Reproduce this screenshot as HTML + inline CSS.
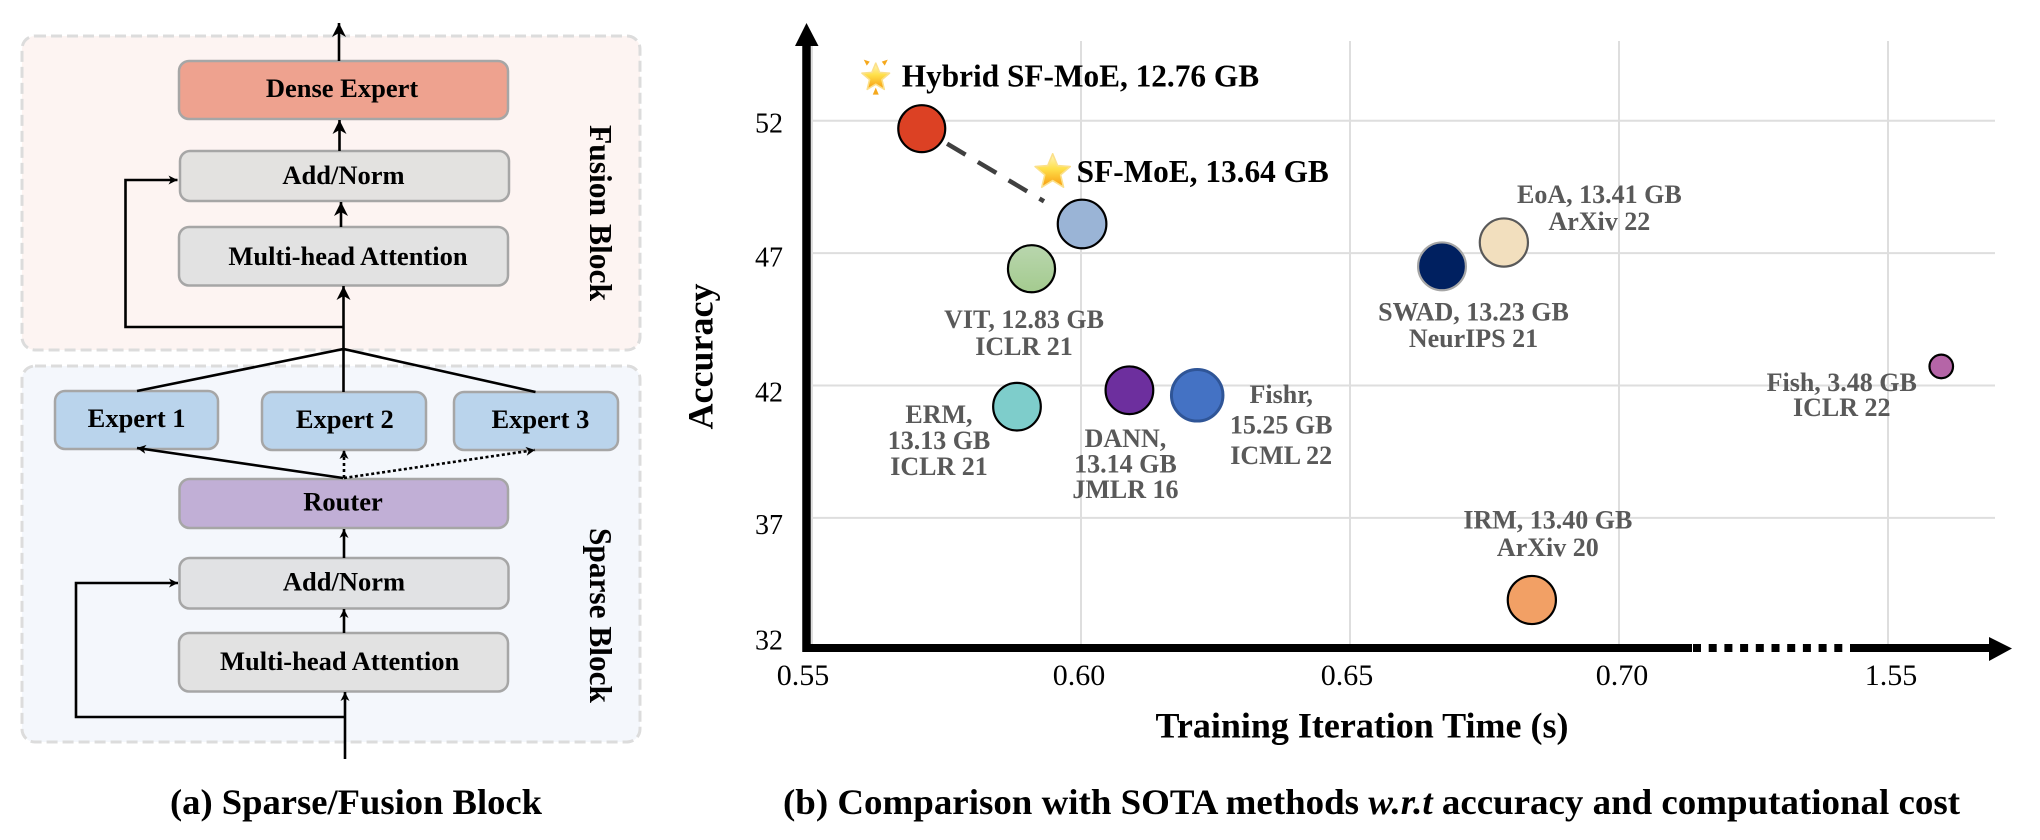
<!DOCTYPE html>
<html lang="en">
<head>
<meta charset="utf-8">
<title>Sparse/Fusion Block and SOTA comparison</title>
<style>
html,body{margin:0;padding:0;background:#fff;width:2040px;height:840px;overflow:hidden}
svg{display:block}
text{font-family:"Liberation Serif",serif;font-weight:bold;fill:#000}
.b{fill:none;stroke:#dcdcdc;stroke-width:3;stroke-dasharray:11 5}
.box{stroke:#a6a6a6;stroke-width:2.5}
.ln{fill:none;stroke:#000;stroke-width:2.6}
.lbl{font-size:26.5px;text-anchor:middle}
.gl{font-size:26px;fill:#595959;text-anchor:middle}
</style>
</head>
<body>
<svg id="root" width="2040" height="840" viewBox="0 0 2040 840" xmlns="http://www.w3.org/2000/svg">
<defs>
<marker id="big" markerUnits="userSpaceOnUse" markerWidth="16" markerHeight="16" refX="14" refY="7" orient="auto"><path d="M14 7 L0 0 L4 7 L0 14 Z" fill="#000"/></marker>
<marker id="small" markerUnits="userSpaceOnUse" markerWidth="12" markerHeight="12" refX="10" refY="5" orient="auto"><path d="M10 5 L1 0.5 L3.5 5 L1 9.5 Z" fill="#000"/></marker>
<linearGradient id="vitFill" x1="0" y1="0" x2="0" y2="1"><stop offset="0" stop-color="#b9d6ae"/><stop offset="1" stop-color="#a4cb8f"/></linearGradient>
<linearGradient id="starFill" x1="0" y1="0" x2="0" y2="1"><stop offset="0" stop-color="#fff6c0"/><stop offset=".45" stop-color="#ffe04a"/><stop offset="1" stop-color="#f79a0e"/></linearGradient>
</defs>

<g>
<rect class="b" x="22" y="36" width="618" height="314" rx="13" style="fill:#fdf4f2"/>
<rect class="b" x="22" y="366" width="618" height="376" rx="13" style="fill:#f4f7fc"/>

<rect class="box" x="179" y="61" width="329" height="58" rx="10" fill="#eea28f"/>
<rect class="box" x="180" y="151" width="329" height="50" rx="10" fill="#e3e2e0"/>
<rect class="box" x="179" y="227" width="329" height="58.5" rx="10" fill="#e2e2e2"/>
<rect class="box" x="55" y="391" width="163" height="58" rx="10" fill="#bad4ec"/>
<rect class="box" x="262" y="392" width="164" height="58" rx="10" fill="#bad4ec"/>
<rect class="box" x="454" y="392" width="164" height="58" rx="10" fill="#bad4ec"/>
<rect class="box" x="179.5" y="479" width="328.5" height="49" rx="10" fill="#c1afd6"/>
<rect class="box" x="179.5" y="558" width="329" height="50.5" rx="10" fill="#e1e2e4"/>
<rect class="box" x="179" y="633" width="329" height="58.5" rx="10" fill="#e2e2e2"/>

<line class="ln" x1="339" y1="61" x2="339" y2="23" marker-end="url(#big)"/>
<line class="ln" x1="339.5" y1="151" x2="339.5" y2="120" marker-end="url(#big)"/>
<line class="ln" x1="341" y1="227" x2="341" y2="202" marker-end="url(#big)"/>
<line class="ln" x1="343.5" y1="392" x2="343.5" y2="286" marker-end="url(#big)"/>
<path class="ln" d="M343.5 327 H125.5 V180 H177.5" marker-end="url(#small)"/>
<path class="ln" d="M137 391 L343.5 349 L535.5 392"/>
<line class="ln" x1="343" y1="478" x2="137" y2="448" marker-end="url(#small)"/>
<line class="ln" x1="344" y1="478" x2="344" y2="450" stroke-dasharray="3 3" marker-end="url(#small)"/>
<line class="ln" x1="344" y1="478" x2="535" y2="450" stroke-dasharray="3 2.5" marker-end="url(#small)"/>
<line class="ln" x1="344" y1="558" x2="344" y2="529" marker-end="url(#small)"/>
<line class="ln" x1="344" y1="633" x2="344" y2="609" marker-end="url(#small)"/>
<line class="ln" x1="345" y1="759" x2="345" y2="692" marker-end="url(#small)"/>
<path class="ln" d="M345 717 H76 V583 H178" marker-end="url(#small)"/>

<text class="lbl" x="342" y="97">Dense Expert</text>
<text class="lbl" x="343.5" y="184">Add/Norm</text>
<text class="lbl" x="348" y="265">Multi-head Attention</text>
<text class="lbl" x="136.6" y="427">Expert 1</text>
<text class="lbl" x="344.8" y="428">Expert 2</text>
<text class="lbl" x="540.4" y="428">Expert 3</text>
<text class="lbl" x="343" y="510.7">Router</text>
<text class="lbl" x="344" y="590.7">Add/Norm</text>
<text class="lbl" x="339.6" y="670">Multi-head Attention</text>
<text transform="translate(590 125) rotate(90)" font-size="31.5" textLength="176" lengthAdjust="spacingAndGlyphs">Fusion Block</text>
<text transform="translate(590 528) rotate(90)" font-size="31.5" textLength="175" lengthAdjust="spacingAndGlyphs">Sparse Block</text>
<text x="170" y="814" font-size="36" textLength="372" lengthAdjust="spacingAndGlyphs">(a) Sparse/Fusion Block</text>
</g>

<g id="chart"></g>

<text x="783" y="814" font-size="36" textLength="1177" lengthAdjust="spacingAndGlyphs">(b) Comparison with SOTA methods <tspan font-style="italic">w.r.t</tspan> accuracy and computational cost</text>
</svg>

<script>
// ---- chart data ----
const methods = ['Hybrid SF-MoE', 'SF-MoE', 'VIT', 'ERM', 'DANN', 'Fishr', 'EoA', 'SWAD', 'Fish', 'IRM'];
const iterationTime = [0.5704, 0.6002, 0.5908, 0.5881, 0.609, 0.6216, 0.6786, 0.6671, 1.5599, 0.6838];
const accuracy = [51.7, 48.1, 46.41, 41.2, 41.82, 41.63, 47.4, 46.5, 42.72, 33.9];
const memoryGB = ['12.76', '13.64', '12.83', '13.13', '13.14', '15.25', '13.41', '13.23', '3.48', '13.40'];
const venues = ['', '', 'ICLR 21', 'ICLR 21', 'JMLR 16', 'ICML 22', 'ArXiv 22', 'NeurIPS 21', 'ICLR 22', 'ArXiv 20'];
const xTickValues = [0.55, 0.60, 0.65, 0.70, 1.55];
const xTickLabels = ['0.55', '0.60', '0.65', '0.70', '1.55'];
const yTickValues = [32, 37, 42, 47, 52];
const yTickLabels = ['32', '37', '42', '47', '52'];

// ---- axis functions (x axis is broken between 0.70 and 1.55) ----
const PX_PER_X = 5380, PX_PER_Y = 26.48;
function xScale(v) { return v <= 1 ? 812 + (v - 0.55) * PX_PER_X : 1888 + (v - 1.55) * PX_PER_X; }
function yScale(v) { return 650.3 - (v - 32) * PX_PER_Y; }
function rScale(gb) { return 6.85 * Math.sqrt(gb) - 1; }

// ---- presentation ----
const fills = ['#dc4124', '#9ab4d6', 'url(#vitFill)', '#7ecdcb', '#6d2f9e', '#4472c4', '#f2dfbe', '#002060', '#b565a7', '#f2a065'];
const strokes = ['#000', '#000', '#000', '#000', '#000', '#2f5597', '#595959', '#a6a6a6', '#000', '#000'];
// label anchor relative to the mark: [dx, dy of first baseline, line gap, wrap into three lines]
const labelPlacement = [
  [0, 0, 0, 0], [0, 0, 0, 0],
  [-7.5, 59.5, 27, 0], [-78, 16.5, 26, 1], [-4, 56.5, 25.7, 1], [84, 7.7, 30.5, 1],
  [95.5, -39.6, 27.3, 0], [31.5, 54, 26.7, 0], [-99.5, 24.4, 25, 0], [16, -71.4, 27.4, 0]
];
const xTickDx = [-9, -2, -3, 3, 3];
const yTickDy = [-1, 16.3, 16, 13.3, 12];

const NS = 'http://www.w3.org/2000/svg';
const chart = document.getElementById('chart');
function make(tag, attrs, parent) {
  const el = document.createElementNS(NS, tag);
  for (const k in attrs) el.setAttribute(k, attrs[k]);
  (parent || chart).appendChild(el);
  return el;
}
function slug(s) { return s.toLowerCase().replace(/[^a-z0-9]+/g, '-'); }

// grid
xTickValues.forEach(function (v, i) {
  const g = make('line', { x1: xScale(v), x2: xScale(v), y1: 41, y2: 648, stroke: '#dedede', 'stroke-width': 2 });
  
  
});
yTickValues.forEach(function (v, i) {
  if (v === 32) return;
  const g = make('line', { x1: 811, x2: 1995, y1: yScale(v), y2: yScale(v), stroke: '#dedede', 'stroke-width': 2 });
  
  
});

// axes
const yAxisLine = make('path', { d: 'M806.5 652 V44', stroke: '#000', 'stroke-width': 8.5, fill: 'none' });


const yAxisHead = make('path', { d: 'M806.5 23 L818.5 46 H795 Z', fill: '#000' });


const xAxisLine = make('path', { d: 'M802.5 648 H1692', stroke: '#000', 'stroke-width': 8, fill: 'none' });


const xAxisBreak = make('path', { d: 'M1693 648 H1850', stroke: '#000', 'stroke-width': 8, fill: 'none', 'stroke-dasharray': '8 7.7' });


const xAxisEnd = make('path', { d: 'M1850 648 H1992', stroke: '#000', 'stroke-width': 8, fill: 'none' });


const xAxisHead = make('path', { d: 'M2012 648.5 L1989 637 V661 Z', fill: '#000' });



// tick labels
xTickValues.forEach(function (v, i) {
  const t = make('text', { x: xScale(v) + xTickDx[i], y: 685, 'font-size': 30, 'text-anchor': 'middle', style: 'font-weight:normal' });
  t.textContent = xTickLabels[i];
  
  
});
yTickValues.forEach(function (v, i) {
  const t = make('text', { x: 783, y: yScale(v) + yTickDy[i], 'font-size': 28, 'text-anchor': 'end', style: 'font-weight:normal' });
  t.textContent = yTickLabels[i];
  
  
});

// axis titles
const yTitle = make('text', { transform: 'translate(712.5 356.5) rotate(-90)', 'font-size': 36, 'text-anchor': 'middle' });
yTitle.textContent = 'Accuracy';


const xTitle = make('text', { x: 1362, y: 737.7, 'font-size': 36, 'text-anchor': 'middle' });
xTitle.textContent = 'Training Iteration Time (s)';



// dashed improvement link between the two SF-MoE variants
(function () {
  const x0 = xScale(iterationTime[0]), y0 = yScale(accuracy[0]);
  const x1 = xScale(iterationTime[1]), y1 = yScale(accuracy[1]);
  const d = Math.hypot(x1 - x0, y1 - y0), ux = (x1 - x0) / d, uy = (y1 - y0) / d;
  const s = rScale(+memoryGB[0]) + 6, e = rScale(+memoryGB[1]) + 20;
  const link = make('line', {
    x1: x0 + ux * s, y1: y0 + uy * s, x2: x1 - ux * e, y2: y1 - uy * e,
    stroke: '#404040', 'stroke-width': 4.5, 'stroke-dasharray': '21.5 14.3'
  });
  
  
})();

// points
methods.forEach(function (m, i) {
  const c = make('circle', {
    cx: xScale(iterationTime[i]), cy: yScale(accuracy[i]), r: rScale(+memoryGB[i]),
    fill: fills[i], stroke: strokes[i], 'stroke-width': i === 5 ? 3 : 2.2
  });
  
  
});

// method labels
methods.forEach(function (m, i) {
  if (i < 2) return;
  const p = labelPlacement[i];
  const lines = p[3] ? [m + ',', memoryGB[i] + ' GB', venues[i]] : [m + ', ' + memoryGB[i] + ' GB', venues[i]];
  lines.forEach(function (s, j) {
    const t = make('text', { class: 'gl', x: xScale(iterationTime[i]) + p[0], y: yScale(accuracy[i]) + p[1] + j * p[2] });
    t.textContent = s;
    
    
  });
});

// highlighted labels with stars
const STAR = '0,-1 .265,-.364 .951,-.309 .428,.139 .588,.809 0,.45 -.588,.809 -.428,.139 -.951,-.309 -.265,-.364';
function addStar(name, x, y, R) {
  const s = make('polygon', {
    points: STAR, transform: 'translate(' + x + ' ' + y + ') scale(' + R + ')',
    fill: 'url(#starFill)', stroke: '#fbe08a', 'stroke-width': 1.6 / R, 'stroke-linejoin': 'round'
  });
  
  
}
(function () {
  const hx = xScale(iterationTime[0]), hy = yScale(accuracy[0]);
  addStar('hybrid-star-icon', hx - 46, hy - 51, 14.5);
  const rays = make('path', {
    d: 'M' + (hx - 58) + ' ' + (hy - 69) + ' l6 2 l-3 4 Z M' + (hx - 34) + ' ' + (hy - 69) + ' l-6 2 l3 4 Z M' + (hx - 46) + ' ' + (hy - 41) + ' l3 7 h-6 Z',
    fill: '#f5a81c'
  });
  
  
  const t1 = make('text', { x: hx - 20, y: hy - 42.3, 'font-size': 31.3 });
  t1.textContent = methods[0] + ', ' + memoryGB[0] + ' GB';
  
  

  const sx = xScale(iterationTime[1]), sy = yScale(accuracy[1]);
  addStar('sf-moe-star-icon', sx - 29.4, sy - 51.7, 18.5);
  const t2 = make('text', { x: sx - 5.4, y: sy - 42, 'font-size': 31.3 });
  t2.textContent = methods[1] + ', ' + memoryGB[1] + ' GB';
  
  
})();
</script>
</body>
</html>
